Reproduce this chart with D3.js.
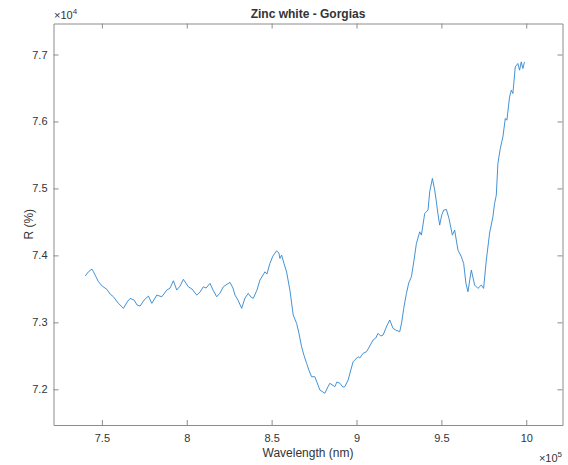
<!DOCTYPE html>
<html>
<head>
<meta charset="utf-8">
<script src="https://cdn.jsdelivr.net/npm/d3@7"></script>
<style>
  body { margin: 0; background: #fff; }
  text { font-family: "Liberation Sans", Arial, Helvetica, sans-serif; fill: #333; }
</style>
</head>
<body>
<script>
'use strict'

// wavelength in units of 1e5 nm, reflectance in units of 1e4
var wavelength = [
  7.4018, 7.4194, 7.4412, 7.4506, 7.4800, 7.5018, 7.5294, 7.5488, 7.5682, 7.5959,
  7.6271, 7.6488, 7.6665, 7.6900, 7.7076, 7.7253, 7.7488, 7.7741, 7.7941, 7.8235,
  7.8529, 7.8824, 7.9018, 7.9212, 7.9412, 7.9606, 7.9800, 8.0094, 8.0312, 8.0588,
  8.0782, 8.0976, 8.1135, 8.1371, 8.1547, 8.1765, 8.1959, 8.2153, 8.2547, 8.2724,
  8.2841, 8.3018, 8.3235, 8.3429, 8.3624, 8.3782, 8.3918, 8.4135, 8.4312, 8.4606,
  8.4724, 8.4900, 8.5076, 8.5294, 8.5429, 8.5488, 8.5588, 8.5724, 8.5882, 8.6076,
  8.6271, 8.6471, 8.6606, 8.6765, 8.6900, 8.7059, 8.7194, 8.7353, 8.7547, 8.7665,
  8.7841, 8.8135, 8.8312, 8.8429, 8.8724, 8.8841, 8.9018, 8.9194, 8.9312, 8.9506,
  8.9665, 8.9800, 9.0094, 9.0194, 9.0388, 9.0588, 9.0782, 9.0976, 9.1135, 9.1271,
  9.1429, 9.1565, 9.1782, 9.1959, 9.2153, 9.2312, 9.2547, 9.2665, 9.2782, 9.2941,
  9.3076, 9.3235, 9.3371, 9.3529, 9.3724, 9.3824, 9.4018, 9.4212, 9.4312, 9.4471,
  9.4606, 9.4706, 9.4782, 9.4900, 9.5018, 9.5135, 9.5294, 9.5447, 9.5647, 9.5782,
  9.5976, 9.6176, 9.6312, 9.6447, 9.6565, 9.6765, 9.6959, 9.7153, 9.7353, 9.7488,
  9.7647, 9.7841, 9.8035, 9.8135, 9.8235, 9.8329, 9.8471, 9.8624, 9.8765, 9.8859,
  9.9018, 9.9118, 9.9212, 9.9353, 9.9506, 9.9606, 9.9706, 9.9800, 9.9900
]
var reflectance = [
  7.3691, 7.3751, 7.3796, 7.3755, 7.3606, 7.3542, 7.3493, 7.3422, 7.3382, 7.3288,
  7.3209, 7.3303, 7.3358, 7.3333, 7.3258, 7.3243, 7.3333, 7.3393, 7.3284, 7.3407,
  7.3382, 7.3482, 7.3512, 7.3621, 7.3482, 7.3542, 7.3642, 7.3531, 7.3497, 7.3407,
  7.3452, 7.3531, 7.3512, 7.3582, 7.3482, 7.3382, 7.3437, 7.3531, 7.3597, 7.3512,
  7.3407, 7.3333, 7.3209, 7.3363, 7.3433, 7.3378, 7.3358, 7.3482, 7.3631, 7.3755,
  7.3721, 7.3881, 7.3990, 7.4069, 7.4034, 7.3955, 7.4004, 7.3885, 7.3751, 7.3482,
  7.3109, 7.2985, 7.2840, 7.2636, 7.2512, 7.2388, 7.2288, 7.2188, 7.2188, 7.2109,
  7.1990, 7.1940, 7.2034, 7.2090, 7.2039, 7.2109, 7.2090, 7.2034, 7.2039, 7.2139,
  7.2288, 7.2412, 7.2487, 7.2467, 7.2537, 7.2561, 7.2646, 7.2736, 7.2766, 7.2836,
  7.2796, 7.2810, 7.2945, 7.3034, 7.2910, 7.2885, 7.2860, 7.3004, 7.3209, 7.3433,
  7.3587, 7.3681, 7.3900, 7.4179, 7.4352, 7.4303, 7.4627, 7.4676, 7.4949, 7.5149,
  7.4975, 7.4800, 7.4646, 7.4452, 7.4601, 7.4676, 7.4687, 7.4552, 7.4303, 7.4378,
  7.4079, 7.3979, 7.3881, 7.3582, 7.3457, 7.3781, 7.3557, 7.3507, 7.3557, 7.3507,
  7.3930, 7.4333, 7.4576, 7.4776, 7.4900, 7.5373, 7.5597, 7.5770, 7.6045, 7.6019,
  7.6367, 7.6467, 7.6418, 7.6815, 7.6866, 7.6766, 7.6890, 7.6791, 7.6890
]
var xTicks = [7.5, 8, 8.5, 9, 9.5, 10]
var yTicks = [7.2, 7.3, 7.4, 7.5, 7.6, 7.7]
var xDomain = [7.215, 10.2135]
var yDomain = [7.1467, 7.7463]
var title = 'Zinc white - Gorgias'
var xLabel = 'Wavelength (nm)'
var yLabel = 'R (%)'

var W = 568, H = 465
  , m = { l: 53.5, r: 5.5, t: 23.5, b: 40 }
  , svg = d3.select('body').append('svg').attr('width', W).attr('height', H)
  , x = d3.scaleLinear().domain(xDomain).range([m.l, W - m.r])
  , y = d3.scaleLinear().domain(yDomain).range([H - m.b, m.t])
  , boxColor = '#8c8c8c'
  , fmt = function(d){ return d3.format('~g')(d) }

function styleAxis(g){
  g.selectAll('path.domain').attr('stroke', boxColor).attr('stroke-width', 1)
  g.selectAll('.tick line').attr('stroke', boxColor).attr('stroke-width', 1)
  g.selectAll('.tick text').style('font-size', '11px').attr('fill', '#3a3a3a')
}

// bottom / top
svg.append('g').attr('transform', 'translate(0,' + (H - m.b) + ')')
  .call(d3.axisBottom(x).tickValues(xTicks).tickFormat(fmt).tickSizeInner(-5).tickSizeOuter(0).tickPadding(9))
  .call(styleAxis)
svg.append('g').attr('transform', 'translate(0,' + m.t + ')')
  .call(d3.axisTop(x).tickValues(xTicks).tickFormat('').tickSizeInner(-5).tickSizeOuter(0))
  .call(styleAxis)
// left / right
svg.append('g').attr('transform', 'translate(' + m.l + ',0)')
  .call(d3.axisLeft(y).tickValues(yTicks).tickFormat(fmt).tickSizeInner(-5).tickSizeOuter(0).tickPadding(6))
  .call(styleAxis)
svg.append('g').attr('transform', 'translate(' + (W - m.r) + ',0)')
  .call(d3.axisRight(y).tickValues(yTicks).tickFormat('').tickSizeInner(-5).tickSizeOuter(0))
  .call(styleAxis)

// the curve
var pts = d3.zip(wavelength, reflectance)
svg.append('path').datum(pts)
  .attr('fill', 'none').attr('stroke', '#2f86cf').attr('stroke-width', 0.9)
  .attr('stroke-linejoin', 'round')
  .attr('d', d3.line().x(function(d){ return x(d[0]) }).y(function(d){ return y(d[1]) }))

// texts
svg.append('text').attr('x', (m.l + W - m.r) / 2).attr('y', 18)
  .attr('text-anchor', 'middle').style('font-size', '12px').style('font-weight', 'bold')
  .attr('fill', '#000').text(title)
svg.append('text').attr('x', (m.l + W - m.r) / 2).attr('y', 457)
  .attr('text-anchor', 'middle').style('font-size', '12px').attr('fill', '#333').text(xLabel)
svg.append('text').attr('transform', 'translate(33,' + ((m.t + H - m.b) / 2) + ') rotate(-90)')
  .attr('text-anchor', 'middle').style('font-size', '12px').attr('fill', '#333').text(yLabel)

function expLabel(px, py, e, anchor){
  var t = svg.append('text').attr('x', px).attr('y', py).attr('text-anchor', anchor)
    .style('font-size', '11px').attr('fill', '#666')
  t.append('tspan').text('\u00d710')
  t.append('tspan').attr('dy', -5).style('font-size', '8px').text(e)
}
expLabel(54, 19, '4', 'start')
expLabel(562, 462, '5', 'end')
</script>
</body>
</html>
